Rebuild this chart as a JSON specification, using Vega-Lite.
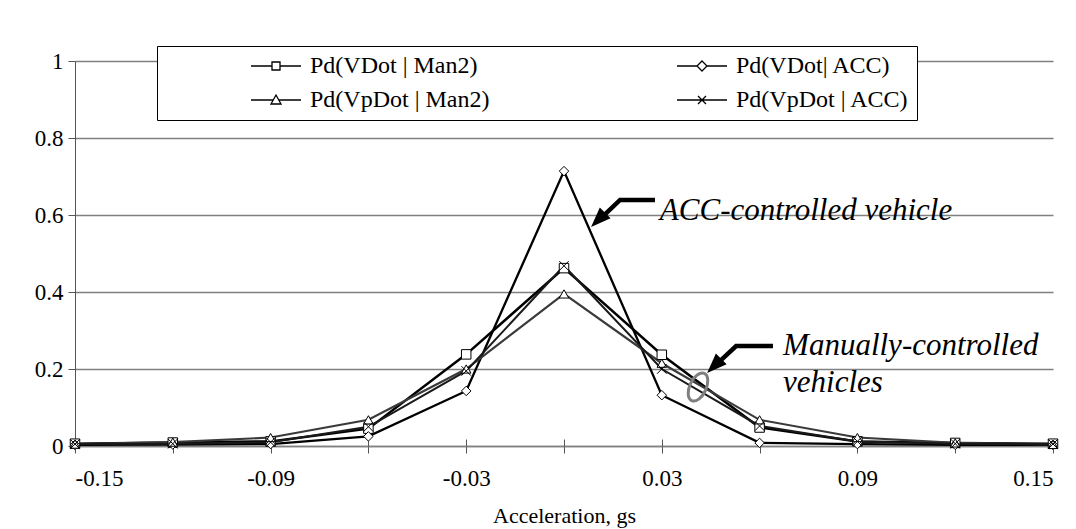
{
  "$schema": "https://vega.github.io/schema/vega-lite/v6.json",
  "width": 978,
  "height": 385,
  "autosize": {"type": "none"},
  "padding": {"left": 75, "top": 61, "right": 23, "bottom": 83},
  "background": "white",
  "config": {
    "view": {"stroke": null},
    "font": "Liberation Serif",
    "axis": {"labelFont": "Liberation Serif", "titleFont": "Liberation Serif", "labelColor": "black", "titleColor": "black", "titleFontWeight": "normal"}
  },
  "resolve": {"scale": {"shape": "independent"}, "legend": {"shape": "independent"}, "axis": {"x": "independent"}},
  "datasets": {
    "series": [
      {"x": -0.15, "p": 0.006, "series": "Pd(VDot | Man2)"},
      {"x": -0.12, "p": 0.009, "series": "Pd(VDot | Man2)"},
      {"x": -0.09, "p": 0.012, "series": "Pd(VDot | Man2)"},
      {"x": -0.06, "p": 0.045, "series": "Pd(VDot | Man2)"},
      {"x": -0.03, "p": 0.238, "series": "Pd(VDot | Man2)"},
      {"x": 0.0, "p": 0.462, "series": "Pd(VDot | Man2)"},
      {"x": 0.03, "p": 0.237, "series": "Pd(VDot | Man2)"},
      {"x": 0.06, "p": 0.048, "series": "Pd(VDot | Man2)"},
      {"x": 0.09, "p": 0.012, "series": "Pd(VDot | Man2)"},
      {"x": 0.12, "p": 0.008, "series": "Pd(VDot | Man2)"},
      {"x": 0.15, "p": 0.006, "series": "Pd(VDot | Man2)"},
      {"x": -0.15, "p": 0.003, "series": "Pd(VDot| ACC)"},
      {"x": -0.12, "p": 0.004, "series": "Pd(VDot| ACC)"},
      {"x": -0.09, "p": 0.005, "series": "Pd(VDot| ACC)"},
      {"x": -0.06, "p": 0.025, "series": "Pd(VDot| ACC)"},
      {"x": -0.03, "p": 0.143, "series": "Pd(VDot| ACC)"},
      {"x": 0.0, "p": 0.714, "series": "Pd(VDot| ACC)"},
      {"x": 0.03, "p": 0.132, "series": "Pd(VDot| ACC)"},
      {"x": 0.06, "p": 0.008, "series": "Pd(VDot| ACC)"},
      {"x": 0.09, "p": 0.005, "series": "Pd(VDot| ACC)"},
      {"x": 0.12, "p": 0.003, "series": "Pd(VDot| ACC)"},
      {"x": 0.15, "p": 0.003, "series": "Pd(VDot| ACC)"},
      {"x": -0.15, "p": 0.005, "series": "Pd(VpDot | Man2)"},
      {"x": -0.12, "p": 0.01, "series": "Pd(VpDot | Man2)"},
      {"x": -0.09, "p": 0.022, "series": "Pd(VpDot | Man2)"},
      {"x": -0.06, "p": 0.068, "series": "Pd(VpDot | Man2)"},
      {"x": -0.03, "p": 0.2, "series": "Pd(VpDot | Man2)"},
      {"x": 0.0, "p": 0.395, "series": "Pd(VpDot | Man2)"},
      {"x": 0.03, "p": 0.215, "series": "Pd(VpDot | Man2)"},
      {"x": 0.06, "p": 0.068, "series": "Pd(VpDot | Man2)"},
      {"x": 0.09, "p": 0.022, "series": "Pd(VpDot | Man2)"},
      {"x": 0.12, "p": 0.008, "series": "Pd(VpDot | Man2)"},
      {"x": 0.15, "p": 0.004, "series": "Pd(VpDot | Man2)"},
      {"x": -0.15, "p": 0.005, "series": "Pd(VpDot | ACC)"},
      {"x": -0.12, "p": 0.006, "series": "Pd(VpDot | ACC)"},
      {"x": -0.09, "p": 0.01, "series": "Pd(VpDot | ACC)"},
      {"x": -0.06, "p": 0.05, "series": "Pd(VpDot | ACC)"},
      {"x": -0.03, "p": 0.195, "series": "Pd(VpDot | ACC)"},
      {"x": 0.0, "p": 0.468, "series": "Pd(VpDot | ACC)"},
      {"x": 0.03, "p": 0.2, "series": "Pd(VpDot | ACC)"},
      {"x": 0.06, "p": 0.052, "series": "Pd(VpDot | ACC)"},
      {"x": 0.09, "p": 0.012, "series": "Pd(VpDot | ACC)"},
      {"x": 0.12, "p": 0.006, "series": "Pd(VpDot | ACC)"},
      {"x": 0.15, "p": 0.005, "series": "Pd(VpDot | ACC)"}
    ],
    "shafts": [
      {"arrow": "acc", "order": 1, "x": 0.0279, "p": 0.639},
      {"arrow": "acc", "order": 2, "x": 0.0172, "p": 0.639},
      {"arrow": "acc", "order": 3, "x": 0.0120, "p": 0.597},
      {"arrow": "man", "order": 1, "x": 0.0641, "p": 0.2597},
      {"arrow": "man", "order": 2, "x": 0.0528, "p": 0.2597},
      {"arrow": "man", "order": 3, "x": 0.0475, "p": 0.218}
    ],
    "heads": [
      {"arrow": "acc", "x": 0.0083, "p": 0.5688},
      {"arrow": "man", "x": 0.0439, "p": 0.1896}
    ],
    "ellipse": [
      {"x": 0.0411, "p": 0.1532}
    ],
    "notes": [
      {"x": 0.0294, "p": 0.587, "text": "ACC-controlled vehicle"},
      {"x": 0.0672, "p": 0.2364, "text": "Manually-controlled"},
      {"x": 0.0672, "p": 0.1403, "text": "vehicles"}
    ]
  },
  "layer": [
    {
      "data": {"name": "series"},
      "mark": {"type": "line"},
      "encoding": {
        "x": {
          "field": "x", "type": "quantitative",
          "scale": {"domain": [-0.15, 0.15], "nice": false, "zero": false},
          "axis": {
            "orient": "bottom",
            "values": [-0.15, -0.12, -0.09, -0.06, -0.03, 0, 0.03, 0.06, 0.09, 0.12, 0.15],
            "labelExpr": "abs(round(datum.value*100)) % 6 == 3 ? replace(format(datum.value, '.2f'), '\u2212', '-') : ''",
            "grid": false,
            "domainColor": "#808080",
            "domainWidth": 1.5,
            "tickColor": "#555555",
            "tickSize": 7,
            "labelFontSize": 23,
            "labelPadding": 14,
            "title": "Acceleration, gs",
            "titleFontSize": 22,
            "titlePadding": 15
          }
        },
        "y": {
          "field": "p", "type": "quantitative",
          "scale": {"domain": [0, 1], "nice": false},
          "axis": {
            "values": [0, 0.2, 0.4, 0.6, 0.8, 1],
            "format": "~g",
            "grid": true,
            "gridColor": "#808080",
            "gridWidth": 1.5,
            "domainColor": "#555555",
            "tickColor": "#555555",
            "tickSize": 7,
            "labelFontSize": 23,
            "labelPadding": 5,
            "title": null
          }
        },
        "color": {
          "field": "series", "type": "nominal",
          "scale": {
            "domain": ["Pd(VDot | Man2)", "Pd(VDot| ACC)", "Pd(VpDot | Man2)", "Pd(VpDot | ACC)"],
            "range": ["#000000", "#000000", "#3a3a3a", "#1a1a1a"]
          },
          "legend": null
        },
        "strokeWidth": {
          "field": "series", "type": "nominal",
          "scale": {
            "domain": ["Pd(VDot | Man2)", "Pd(VDot| ACC)", "Pd(VpDot | Man2)", "Pd(VpDot | ACC)"],
            "range": [2.5, 2, 1, 1]
          },
          "legend": null
        }
      }
    },
    {
      "data": {"name": "series"},
      "mark": {"type": "point", "filled": true, "fill": "white", "stroke": "black", "strokeWidth": 1, "size": 90, "opacity": 1},
      "encoding": {
        "x": {
          "field": "x", "type": "quantitative",
          "axis": {
            "orient": "bottom",
            "offset": -7,
            "values": [-0.15, -0.12, -0.09, -0.06, -0.03, 0, 0.03, 0.06, 0.09, 0.12, 0.15],
            "domain": false,
            "labels": false,
            "grid": false,
            "title": null,
            "tickColor": "#555555",
            "tickSize": 7
          }
        },
        "y": {"field": "p", "type": "quantitative"},
        "shape": {
          "field": "series", "type": "nominal",
          "scale": {
            "domain": ["Pd(VDot | Man2)", "Pd(VDot| ACC)", "Pd(VpDot | Man2)", "Pd(VpDot | ACC)"],
            "range": ["square", "diamond", "triangle-up", "M-1,-1L1,1M-1,1L1,-1"]
          },
          "legend": null
        }
      }
    },
    {
      "data": {"name": "series"},
      "mark": {"type": "point", "filled": false, "color": "black", "strokeWidth": 1.3, "opacity": 0},
      "encoding": {
        "x": {"field": "x", "type": "quantitative", "axis": null},
        "y": {"field": "p", "type": "quantitative"},
        "shape": {
          "field": "series", "type": "nominal",
          "scale": {
            "domain": ["Pd(VDot | Man2)", "Pd(VDot| ACC)", "Pd(VpDot | Man2)", "Pd(VpDot | ACC)"],
            "range": [
              "M-1,0L1.1,0M1.9,0L4,0M1.1,-0.4L1.9,-0.4L1.9,0.4L1.1,0.4Z",
              "M-1,0L1,0M2,0L4,0M1.5,-0.5L2,0L1.5,0.5L1,0Z",
              "M-1,0L1.22,0M1.78,0L4,0M1.5,-0.5L2,0.4L1,0.4Z",
              "M-1,0L4,0M1.1,-0.4L1.9,0.4M1.1,0.4L1.9,-0.4"
            ]
          },
          "legend": {
            "orient": "none",
            "direction": "horizontal",
            "legendX": 82,
            "legendY": -15,
            "columns": 2,
            "columnPadding": 184,
            "rowPadding": 10,
            "padding": 8,
            "fillColor": "white",
            "strokeColor": "black",
            "title": " ",
            "titleOrient": "left",
            "titleFontSize": 4,
            "titlePadding": 84,
            "symbolSize": 400,
            "symbolStrokeWidth": 1.3,
            "symbolStrokeColor": "black",
            "symbolOpacity": 1,
            "labelFont": "Liberation Serif",
            "labelFontSize": 24,
            "labelColor": "black",
            "labelOffset": 37,
            "labelLimit": 400
          }
        }
      }
    },
    {
      "data": {"name": "shafts"},
      "mark": {"type": "line", "color": "black", "strokeWidth": 4.5, "strokeJoin": "miter"},
      "encoding": {
        "x": {"field": "x", "type": "quantitative", "axis": null},
        "y": {"field": "p", "type": "quantitative"},
        "detail": {"field": "arrow"},
        "order": {"field": "order"}
      }
    },
    {
      "data": {"name": "heads"},
      "mark": {"type": "point", "shape": "M0,0L-0.38,1L0.38,1Z", "filled": true, "color": "black", "size": 1600, "angle": 225, "opacity": 1},
      "encoding": {
        "x": {"field": "x", "type": "quantitative", "axis": null},
        "y": {"field": "p", "type": "quantitative"}
      }
    },
    {
      "data": {"name": "ellipse"},
      "mark": {"type": "point", "shape": "M0,-1A0.55,1,0,1,1,0,1A0.55,1,0,1,1,0,-1Z", "filled": false, "stroke": "#808080", "strokeWidth": 3, "size": 900, "angle": 25, "opacity": 1},
      "encoding": {
        "x": {"field": "x", "type": "quantitative", "axis": null},
        "y": {"field": "p", "type": "quantitative"}
      }
    },
    {
      "data": {"name": "notes"},
      "mark": {"type": "text", "font": "Liberation Serif", "fontStyle": "italic", "fontSize": 31, "align": "left", "baseline": "alphabetic", "color": "black"},
      "encoding": {
        "x": {"field": "x", "type": "quantitative", "axis": null},
        "y": {"field": "p", "type": "quantitative"},
        "text": {"field": "text"}
      }
    }
  ]
}
